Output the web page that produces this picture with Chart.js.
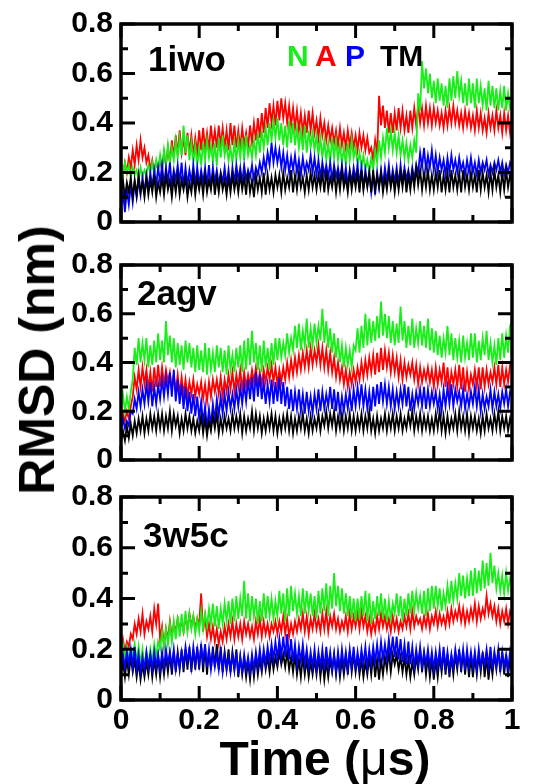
<!DOCTYPE html>
<html>
<head>
<meta charset="utf-8">
<script src="https://cdn.jsdelivr.net/npm/chart.js@4.4.1/dist/chart.umd.min.js"></script>
<style>
  html, body { margin: 0; padding: 0; background: #fff; }
  #wrap { position: relative; width: 535px; height: 784px; overflow: hidden; font-family: "Liberation Sans", Arial, sans-serif; }
  canvas { position: absolute; left: 0; }
  .title { position: absolute; font-weight: bold; color: #000; white-space: nowrap; }
  #ytitle { font-size: 50px; left: 37px; top: 360px; transform: translate(-50%, -50%) rotate(-90deg); }
  #xtitle { font-size: 48px; left: 325px; top: 758px; transform: translate(-50%, -50%); }
  #xtitle span { font-weight: normal; }
</style>
</head>
<body>
<div id="wrap">
  <canvas id="c1" width="535" height="258" style="top:-6px"></canvas>
  <canvas id="c2" width="535" height="255" style="top:235px"></canvas>
  <canvas id="c3" width="535" height="317" style="top:467px"></canvas>
  <div class="title" id="ytitle">RMSD (nm)</div>
  <div class="title" id="xtitle">Time (<span>μ</span>s)</div>
</div>
<script>
// sampling grid, 0..1 us in 0.005 steps (201 frames)
const time = Array.from({ length: 201 }, (_, i) => i / 200);
const xTickValues = [0, 0.1, 0.2, 0.3, 0.4, 0.5, 0.6, 0.7, 0.8, 0.9, 1];
const yTickValues = [0, 0.1, 0.2, 0.3, 0.4, 0.5, 0.6, 0.7, 0.8];
const panelNames = ['1iwo', '2agv', '3w5c'];
const seriesNames = ['N', 'A', 'P', 'TM'];
const seriesColors = ['#18ee18', '#ff0000', '#0000ff', '#000000'];

// ---- 1iwo ---- (one row = 0.1 us)
const p1N = [
  0.25,0.19,0.24,0.20,0.23,0.18,0.22,0.19,0.21,0.17,0.22,0.18,0.21,0.19,0.23,0.20,0.24,0.19,0.25,0.21,
  0.27,0.21,0.29,0.23,0.31,0.24,0.30,0.25,0.33,0.26,0.34,0.27,0.39,0.28,0.35,0.25,0.32,0.24,0.31,0.23,
  0.30,0.23,0.32,0.25,0.33,0.26,0.31,0.24,0.32,0.23,0.34,0.26,0.35,0.27,0.31,0.25,0.30,0.24,0.32,0.25,
  0.33,0.26,0.34,0.25,0.35,0.27,0.31,0.26,0.33,0.27,0.36,0.28,0.37,0.30,0.38,0.31,0.40,0.33,0.41,0.34,
  0.42,0.33,0.40,0.31,0.39,0.30,0.41,0.32,0.40,0.31,0.38,0.30,0.37,0.29,0.39,0.28,0.37,0.30,0.36,0.29,
  0.35,0.27,0.34,0.26,0.33,0.25,0.32,0.24,0.34,0.26,0.33,0.25,0.31,0.24,0.30,0.23,0.32,0.25,0.33,0.26,
  0.30,0.23,0.28,0.22,0.27,0.21,0.25,0.20,0.26,0.21,0.29,0.24,0.33,0.26,0.34,0.28,0.38,0.30,0.37,0.29,
  0.36,0.28,0.35,0.27,0.33,0.26,0.32,0.25,0.31,0.26,0.33,0.28,0.52,0.45,0.65,0.54,0.62,0.52,0.60,0.50,
  0.57,0.48,0.58,0.49,0.56,0.47,0.55,0.46,0.58,0.49,0.59,0.50,0.61,0.51,0.57,0.48,0.56,0.47,0.58,0.48,
  0.56,0.46,0.58,0.48,0.55,0.47,0.54,0.45,0.57,0.47,0.55,0.46,0.54,0.45,0.53,0.46,0.55,0.45,0.52,0.46,
  0.49
];
const p1A = [
  0.21,0.19,0.24,0.20,0.26,0.22,0.29,0.23,0.31,0.25,0.33,0.26,0.30,0.24,0.27,0.21,0.25,0.20,0.24,0.21,
  0.25,0.21,0.28,0.23,0.30,0.24,0.33,0.26,0.35,0.27,0.37,0.28,0.34,0.27,0.36,0.28,0.35,0.27,0.34,0.28,
  0.37,0.29,0.38,0.30,0.36,0.29,0.39,0.31,0.37,0.30,0.39,0.31,0.38,0.30,0.37,0.29,0.40,0.31,0.39,0.30,
  0.37,0.30,0.38,0.31,0.36,0.30,0.39,0.32,0.40,0.33,0.42,0.34,0.44,0.36,0.46,0.38,0.48,0.40,0.47,0.39,
  0.49,0.41,0.50,0.42,0.48,0.40,0.47,0.39,0.46,0.38,0.45,0.37,0.44,0.36,0.43,0.36,0.45,0.37,0.44,0.36,
  0.41,0.34,0.42,0.35,0.40,0.33,0.39,0.33,0.38,0.32,0.37,0.31,0.38,0.31,0.36,0.30,0.37,0.31,0.36,0.30,
  0.35,0.29,0.36,0.30,0.35,0.29,0.34,0.28,0.30,0.25,0.33,0.27,0.51,0.39,0.47,0.38,0.45,0.36,0.44,0.36,
  0.44,0.37,0.46,0.38,0.45,0.37,0.43,0.36,0.45,0.38,0.46,0.39,0.47,0.40,0.46,0.39,0.47,0.40,0.46,0.39,
  0.46,0.40,0.45,0.39,0.44,0.38,0.45,0.39,0.46,0.40,0.47,0.40,0.45,0.39,0.44,0.38,0.45,0.39,0.44,0.38,
  0.43,0.37,0.45,0.38,0.44,0.37,0.42,0.36,0.44,0.38,0.43,0.37,0.45,0.38,0.43,0.36,0.44,0.37,0.43,0.36,
  0.42
];
const p1P = [
  0.05,0.12,0.04,0.13,0.07,0.15,0.08,0.16,0.10,0.17,0.11,0.18,0.12,0.19,0.13,0.20,0.14,0.21,0.15,0.22,
  0.16,0.23,0.15,0.22,0.16,0.24,0.15,0.21,0.17,0.23,0.16,0.24,0.14,0.22,0.15,0.21,0.16,0.23,0.15,0.22,
  0.15,0.21,0.16,0.22,0.15,0.23,0.14,0.22,0.16,0.21,0.15,0.20,0.16,0.22,0.15,0.21,0.14,0.22,0.16,0.23,
  0.17,0.22,0.16,0.23,0.17,0.21,0.18,0.23,0.17,0.22,0.19,0.24,0.20,0.26,0.21,0.28,0.23,0.32,0.24,0.30,
  0.24,0.29,0.22,0.28,0.21,0.27,0.20,0.26,0.21,0.27,0.20,0.25,0.19,0.26,0.20,0.24,0.21,0.27,0.20,0.26,
  0.19,0.25,0.18,0.24,0.19,0.23,0.18,0.24,0.17,0.23,0.18,0.22,0.17,0.23,0.16,0.22,0.15,0.21,0.16,0.22,
  0.17,0.23,0.15,0.22,0.14,0.21,0.15,0.20,0.12,0.19,0.11,0.20,0.14,0.21,0.15,0.22,0.16,0.23,0.15,0.21,
  0.16,0.22,0.15,0.23,0.16,0.22,0.17,0.21,0.16,0.22,0.17,0.23,0.20,0.28,0.22,0.30,0.21,0.27,0.22,0.29,
  0.21,0.27,0.20,0.26,0.21,0.25,0.19,0.26,0.20,0.27,0.21,0.25,0.20,0.26,0.21,0.24,0.19,0.25,0.20,0.26,
  0.20,0.24,0.19,0.25,0.20,0.24,0.21,0.25,0.19,0.23,0.20,0.24,0.21,0.25,0.20,0.24,0.19,0.23,0.20,0.24,
  0.22
];
const p1TM = [
  0.11,0.17,0.10,0.16,0.12,0.18,0.10,0.17,0.11,0.19,0.12,0.16,0.10,0.18,0.11,0.17,0.12,0.19,0.10,0.16,
  0.12,0.18,0.11,0.19,0.13,0.17,0.10,0.18,0.12,0.19,0.11,0.17,0.13,0.18,0.10,0.16,0.12,0.19,0.11,0.18,
  0.13,0.18,0.11,0.19,0.12,0.17,0.13,0.20,0.11,0.18,0.12,0.19,0.13,0.17,0.11,0.18,0.12,0.19,0.13,0.18,
  0.12,0.19,0.13,0.18,0.11,0.20,0.12,0.17,0.10,0.19,0.13,0.18,0.12,0.20,0.11,0.19,0.13,0.18,0.12,0.19,
  0.14,0.19,0.12,0.20,0.13,0.18,0.14,0.21,0.12,0.19,0.13,0.20,0.14,0.18,0.12,0.19,0.13,0.20,0.14,0.19,
  0.13,0.19,0.14,0.20,0.12,0.21,0.13,0.18,0.14,0.20,0.12,0.19,0.13,0.21,0.14,0.18,0.12,0.20,0.13,0.19,
  0.14,0.20,0.12,0.21,0.13,0.19,0.14,0.20,0.12,0.21,0.13,0.19,0.14,0.20,0.12,0.18,0.13,0.20,0.14,0.19,
  0.12,0.19,0.13,0.20,0.14,0.21,0.12,0.19,0.13,0.20,0.14,0.22,0.15,0.21,0.13,0.20,0.14,0.21,0.13,0.19,
  0.13,0.20,0.14,0.21,0.12,0.19,0.13,0.20,0.12,0.21,0.14,0.19,0.13,0.20,0.12,0.21,0.14,0.19,0.13,0.20,
  0.14,0.19,0.12,0.21,0.13,0.20,0.14,0.19,0.12,0.20,0.13,0.21,0.14,0.19,0.12,0.20,0.13,0.21,0.14,0.19,
  0.16
];

// ---- 2agv ----
const p2N = [
  0.22,0.27,0.20,0.26,0.21,0.28,0.33,0.46,0.39,0.50,0.40,0.48,0.41,0.50,0.38,0.47,0.39,0.49,0.40,0.52,
  0.41,0.49,0.40,0.57,0.43,0.51,0.40,0.50,0.38,0.48,0.39,0.47,0.37,0.49,0.40,0.48,0.38,0.46,0.36,0.47,
  0.37,0.45,0.36,0.48,0.35,0.46,0.37,0.44,0.36,0.47,0.38,0.46,0.36,0.45,0.35,0.47,0.37,0.43,0.36,0.46,
  0.38,0.47,0.36,0.49,0.37,0.50,0.39,0.53,0.40,0.48,0.37,0.47,0.36,0.49,0.38,0.46,0.37,0.48,0.39,0.50,
  0.41,0.50,0.42,0.48,0.43,0.52,0.44,0.50,0.45,0.55,0.46,0.56,0.45,0.53,0.47,0.58,0.46,0.54,0.47,0.56,
  0.48,0.55,0.49,0.62,0.48,0.57,0.46,0.54,0.44,0.52,0.42,0.50,0.40,0.47,0.38,0.46,0.39,0.45,0.38,0.47,
  0.45,0.54,0.44,0.55,0.46,0.60,0.47,0.58,0.48,0.57,0.49,0.59,0.50,0.65,0.51,0.60,0.50,0.59,0.48,0.57,
  0.47,0.56,0.48,0.63,0.49,0.57,0.46,0.55,0.47,0.58,0.46,0.54,0.48,0.57,0.47,0.55,0.46,0.58,0.45,0.54,
  0.44,0.53,0.43,0.51,0.42,0.50,0.44,0.55,0.43,0.52,0.41,0.50,0.42,0.49,0.40,0.51,0.42,0.48,0.41,0.52,
  0.42,0.52,0.40,0.49,0.41,0.50,0.43,0.53,0.41,0.48,0.40,0.47,0.39,0.50,0.41,0.52,0.42,0.51,0.44,0.55,
  0.57
];
const p2A = [
  0.15,0.19,0.16,0.20,0.17,0.22,0.26,0.34,0.29,0.37,0.30,0.38,0.31,0.37,0.29,0.36,0.28,0.38,0.30,0.39,
  0.30,0.38,0.31,0.37,0.32,0.36,0.29,0.35,0.28,0.35,0.27,0.34,0.27,0.33,0.26,0.32,0.27,0.33,0.26,0.31,
  0.27,0.32,0.25,0.31,0.24,0.32,0.26,0.33,0.28,0.33,0.27,0.34,0.26,0.33,0.28,0.35,0.29,0.36,0.28,0.35,
  0.30,0.37,0.29,0.36,0.30,0.35,0.31,0.37,0.32,0.38,0.30,0.36,0.31,0.37,0.32,0.38,0.33,0.39,0.32,0.38,
  0.31,0.37,0.32,0.38,0.33,0.40,0.34,0.41,0.35,0.42,0.36,0.43,0.37,0.44,0.38,0.45,0.38,0.46,0.39,0.45,
  0.40,0.47,0.39,0.46,0.38,0.45,0.37,0.44,0.36,0.42,0.34,0.40,0.33,0.38,0.31,0.37,0.30,0.36,0.31,0.37,
  0.32,0.38,0.33,0.40,0.34,0.41,0.35,0.42,0.36,0.43,0.35,0.44,0.36,0.46,0.37,0.45,0.38,0.44,0.36,0.43,
  0.36,0.42,0.34,0.41,0.33,0.40,0.34,0.39,0.35,0.40,0.33,0.39,0.31,0.38,0.32,0.37,0.33,0.38,0.32,0.37,
  0.30,0.38,0.31,0.37,0.32,0.40,0.30,0.38,0.29,0.36,0.31,0.37,0.30,0.39,0.29,0.38,0.28,0.36,0.29,0.35,
  0.31,0.37,0.30,0.38,0.29,0.38,0.30,0.37,0.31,0.36,0.32,0.38,0.31,0.39,0.30,0.38,0.31,0.37,0.32,0.39,
  0.40
];
const p2P = [
  0.12,0.17,0.13,0.16,0.14,0.20,0.19,0.25,0.21,0.28,0.22,0.29,0.23,0.31,0.24,0.32,0.22,0.30,0.23,0.31,
  0.25,0.33,0.26,0.34,0.27,0.36,0.26,0.37,0.24,0.33,0.23,0.31,0.21,0.30,0.20,0.28,0.19,0.27,0.18,0.26,
  0.17,0.24,0.15,0.22,0.13,0.21,0.14,0.23,0.16,0.25,0.18,0.26,0.19,0.27,0.20,0.28,0.21,0.27,0.21,0.29,
  0.22,0.30,0.23,0.31,0.24,0.33,0.25,0.34,0.24,0.36,0.26,0.35,0.25,0.32,0.23,0.31,0.24,0.33,0.23,0.32,
  0.24,0.34,0.23,0.32,0.22,0.30,0.21,0.29,0.20,0.28,0.21,0.29,0.20,0.27,0.19,0.28,0.20,0.26,0.19,0.27,
  0.21,0.29,0.20,0.28,0.21,0.27,0.22,0.30,0.21,0.29,0.20,0.28,0.19,0.26,0.20,0.27,0.21,0.28,0.20,0.29,
  0.22,0.30,0.23,0.31,0.22,0.29,0.21,0.28,0.20,0.30,0.22,0.31,0.23,0.32,0.24,0.31,0.23,0.30,0.22,0.29,
  0.21,0.28,0.22,0.29,0.23,0.31,0.22,0.30,0.20,0.27,0.21,0.28,0.23,0.29,0.22,0.30,0.21,0.29,0.22,0.28,
  0.23,0.28,0.21,0.27,0.20,0.29,0.22,0.30,0.23,0.31,0.22,0.29,0.24,0.28,0.22,0.29,0.21,0.27,0.22,0.28,
  0.23,0.30,0.22,0.29,0.20,0.27,0.21,0.26,0.22,0.29,0.21,0.28,0.22,0.27,0.21,0.28,0.23,0.29,0.22,0.28,
  0.26
];
const p2TM = [
  0.07,0.12,0.08,0.14,0.09,0.15,0.10,0.16,0.11,0.17,0.12,0.18,0.11,0.17,0.12,0.19,0.13,0.18,0.12,0.19,
  0.13,0.19,0.12,0.18,0.13,0.20,0.12,0.19,0.14,0.18,0.11,0.17,0.12,0.19,0.13,0.18,0.12,0.17,0.11,0.16,
  0.12,0.18,0.11,0.17,0.10,0.16,0.12,0.18,0.13,0.19,0.11,0.17,0.12,0.18,0.13,0.17,0.12,0.19,0.13,0.18,
  0.13,0.19,0.11,0.18,0.12,0.17,0.13,0.20,0.12,0.19,0.13,0.18,0.11,0.17,0.12,0.18,0.13,0.19,0.12,0.18,
  0.11,0.17,0.12,0.18,0.13,0.19,0.12,0.18,0.11,0.17,0.12,0.18,0.13,0.19,0.12,0.17,0.11,0.18,0.12,0.17,
  0.13,0.19,0.12,0.18,0.14,0.20,0.13,0.19,0.14,0.20,0.12,0.18,0.13,0.19,0.12,0.18,0.13,0.19,0.12,0.18,
  0.12,0.18,0.13,0.19,0.12,0.18,0.13,0.20,0.12,0.17,0.11,0.18,0.12,0.17,0.13,0.19,0.12,0.18,0.13,0.19,
  0.12,0.18,0.13,0.19,0.12,0.17,0.13,0.19,0.14,0.20,0.12,0.18,0.13,0.19,0.12,0.18,0.13,0.18,0.12,0.17,
  0.12,0.19,0.13,0.20,0.12,0.18,0.11,0.18,0.12,0.17,0.13,0.19,0.12,0.20,0.13,0.18,0.12,0.19,0.11,0.18,
  0.13,0.18,0.12,0.17,0.11,0.18,0.12,0.19,0.13,0.17,0.12,0.19,0.13,0.20,0.12,0.18,0.13,0.18,0.12,0.17,
  0.14
];

// ---- 3w5c ----
const p3N = [
  0.18,0.22,0.17,0.21,0.16,0.20,0.17,0.22,0.15,0.21,0.14,0.20,0.13,0.19,0.14,0.20,0.15,0.22,0.17,0.23,
  0.20,0.27,0.21,0.28,0.22,0.30,0.23,0.31,0.24,0.33,0.25,0.34,0.26,0.35,0.27,0.34,0.28,0.33,0.26,0.32,
  0.27,0.35,0.28,0.34,0.29,0.36,0.30,0.38,0.29,0.37,0.28,0.36,0.30,0.38,0.31,0.39,0.30,0.40,0.31,0.41,
  0.32,0.40,0.33,0.47,0.32,0.42,0.31,0.41,0.33,0.40,0.30,0.39,0.31,0.42,0.32,0.41,0.33,0.40,0.32,0.39,
  0.33,0.43,0.34,0.42,0.31,0.44,0.33,0.45,0.35,0.42,0.34,0.41,0.33,0.44,0.34,0.43,0.35,0.42,0.33,0.41,
  0.32,0.43,0.34,0.44,0.35,0.46,0.33,0.45,0.36,0.50,0.37,0.45,0.35,0.44,0.34,0.42,0.33,0.41,0.32,0.40,
  0.31,0.40,0.32,0.41,0.33,0.43,0.31,0.42,0.30,0.39,0.32,0.41,0.33,0.42,0.32,0.40,0.31,0.39,0.32,0.38,
  0.34,0.42,0.33,0.41,0.31,0.40,0.33,0.42,0.34,0.43,0.35,0.42,0.36,0.41,0.34,0.43,0.33,0.44,0.35,0.45,
  0.36,0.45,0.37,0.44,0.35,0.42,0.37,0.45,0.38,0.47,0.39,0.46,0.40,0.50,0.41,0.49,0.40,0.48,0.41,0.51,
  0.41,0.52,0.42,0.51,0.43,0.55,0.44,0.54,0.45,0.58,0.46,0.53,0.44,0.50,0.43,0.49,0.42,0.50,0.43,0.48,
  0.45
];
const p3A = [
  0.20,0.24,0.19,0.23,0.21,0.26,0.24,0.30,0.26,0.32,0.27,0.34,0.26,0.31,0.28,0.33,0.27,0.36,0.30,0.38,
  0.24,0.29,0.21,0.28,0.24,0.31,0.25,0.30,0.27,0.32,0.28,0.31,0.27,0.33,0.28,0.34,0.29,0.33,0.28,0.32,
  0.30,0.42,0.27,0.33,0.25,0.30,0.24,0.29,0.23,0.28,0.22,0.27,0.23,0.29,0.24,0.30,0.25,0.31,0.24,0.30,
  0.25,0.30,0.24,0.31,0.26,0.30,0.25,0.29,0.24,0.31,0.26,0.32,0.25,0.31,0.26,0.30,0.25,0.30,0.27,0.31,
  0.26,0.31,0.27,0.33,0.26,0.32,0.25,0.30,0.26,0.31,0.27,0.32,0.28,0.34,0.27,0.33,0.26,0.32,0.28,0.34,
  0.28,0.32,0.27,0.34,0.28,0.35,0.27,0.33,0.29,0.34,0.28,0.32,0.27,0.31,0.28,0.33,0.27,0.34,0.28,0.33,
  0.29,0.34,0.28,0.35,0.29,0.33,0.27,0.32,0.26,0.31,0.27,0.33,0.28,0.34,0.29,0.33,0.28,0.32,0.27,0.33,
  0.28,0.32,0.27,0.31,0.28,0.33,0.29,0.34,0.28,0.35,0.29,0.33,0.30,0.32,0.28,0.33,0.29,0.34,0.28,0.33,
  0.30,0.35,0.29,0.34,0.30,0.33,0.29,0.35,0.30,0.36,0.31,0.35,0.32,0.37,0.31,0.36,0.30,0.35,0.31,0.36,
  0.32,0.38,0.31,0.37,0.32,0.36,0.33,0.41,0.34,0.38,0.33,0.37,0.31,0.36,0.30,0.35,0.31,0.36,0.30,0.35,
  0.33
];
const p3P = [
  0.12,0.18,0.13,0.19,0.14,0.20,0.13,0.21,0.12,0.18,0.11,0.17,0.12,0.19,0.13,0.18,0.12,0.19,0.13,0.18,
  0.12,0.19,0.13,0.20,0.14,0.19,0.13,0.20,0.12,0.18,0.13,0.19,0.14,0.21,0.15,0.20,0.13,0.21,0.14,0.20,
  0.14,0.21,0.15,0.22,0.13,0.20,0.12,0.19,0.13,0.18,0.12,0.19,0.11,0.18,0.12,0.17,0.11,0.18,0.12,0.19,
  0.10,0.17,0.11,0.18,0.12,0.17,0.11,0.18,0.12,0.19,0.13,0.20,0.13,0.20,0.14,0.21,0.15,0.22,0.16,0.23,
  0.16,0.24,0.17,0.25,0.17,0.26,0.16,0.24,0.15,0.22,0.14,0.21,0.15,0.22,0.14,0.20,0.13,0.19,0.13,0.20,
  0.12,0.19,0.13,0.20,0.12,0.21,0.13,0.19,0.12,0.18,0.11,0.19,0.12,0.20,0.13,0.19,0.12,0.20,0.13,0.21,
  0.12,0.19,0.13,0.20,0.14,0.21,0.13,0.20,0.14,0.21,0.15,0.22,0.15,0.23,0.16,0.22,0.16,0.24,0.17,0.25,
  0.17,0.25,0.16,0.24,0.15,0.22,0.14,0.23,0.14,0.21,0.13,0.20,0.14,0.21,0.13,0.19,0.14,0.20,0.13,0.19,
  0.12,0.19,0.13,0.20,0.12,0.21,0.13,0.19,0.12,0.18,0.13,0.20,0.14,0.19,0.13,0.20,0.12,0.20,0.13,0.19,
  0.13,0.19,0.12,0.20,0.13,0.18,0.14,0.20,0.13,0.21,0.12,0.19,0.13,0.20,0.12,0.19,0.13,0.18,0.12,0.19,
  0.14
];
const p3TM = [
  0.10,0.15,0.09,0.16,0.10,0.17,0.11,0.16,0.09,0.15,0.08,0.14,0.09,0.15,0.10,0.17,0.09,0.16,0.10,0.17,
  0.09,0.16,0.10,0.17,0.11,0.18,0.10,0.19,0.11,0.19,0.12,0.20,0.11,0.20,0.12,0.21,0.11,0.20,0.12,0.21,
  0.12,0.22,0.11,0.21,0.10,0.20,0.12,0.21,0.13,0.22,0.12,0.21,0.11,0.19,0.12,0.20,0.11,0.19,0.12,0.20,
  0.09,0.17,0.10,0.16,0.09,0.15,0.08,0.16,0.09,0.17,0.10,0.16,0.11,0.18,0.12,0.17,0.11,0.18,0.12,0.17,
  0.13,0.19,0.14,0.18,0.13,0.19,0.12,0.17,0.11,0.18,0.10,0.16,0.09,0.17,0.10,0.16,0.09,0.15,0.10,0.16,
  0.10,0.17,0.09,0.16,0.08,0.15,0.09,0.16,0.11,0.18,0.10,0.17,0.09,0.16,0.10,0.17,0.10,0.19,0.11,0.18,
  0.11,0.17,0.10,0.16,0.09,0.15,0.10,0.17,0.10,0.18,0.09,0.16,0.08,0.16,0.10,0.17,0.12,0.19,0.11,0.18,
  0.14,0.18,0.12,0.17,0.11,0.17,0.10,0.16,0.09,0.15,0.10,0.17,0.12,0.20,0.11,0.18,0.10,0.17,0.09,0.16,
  0.08,0.16,0.09,0.17,0.11,0.19,0.10,0.18,0.09,0.17,0.10,0.18,0.12,0.20,0.11,0.19,0.10,0.18,0.09,0.17,
  0.09,0.17,0.10,0.18,0.11,0.19,0.09,0.17,0.08,0.16,0.10,0.18,0.12,0.20,0.11,0.19,0.10,0.18,0.09,0.17,
  0.09
];

const FONT = '"Liberation Sans", Arial, sans-serif';

function fmtTick(v) {
  if (v === 0) return '0';
  if (Math.abs(v - 1) < 1e-9) return '1';
  return v.toFixed(1);
}

// frame, inward ticks on all four sides, panel name and the N A P TM key
const frameTicks = {
  id: 'frameTicks',
  afterDraw(chart, args, opts) {
    const { ctx, chartArea: a } = chart;
    const x = chart.scales.x, y = chart.scales.y;
    ctx.save();
    ctx.strokeStyle = '#000';
    ctx.lineWidth = 3;
    ctx.beginPath();
    xTickValues.forEach((v, i) => {
      const px = x.getPixelForValue(v);
      const len = i % 2 === 0 ? 14 : 7;
      ctx.moveTo(px, a.bottom); ctx.lineTo(px, a.bottom - len);
      ctx.moveTo(px, a.top); ctx.lineTo(px, a.top + len);
    });
    yTickValues.forEach((v, i) => {
      const py = y.getPixelForValue(v);
      const len = i % 2 === 0 ? 14 : 7;
      ctx.moveTo(a.left, py); ctx.lineTo(a.left + len, py);
      ctx.moveTo(a.right, py); ctx.lineTo(a.right - len, py);
    });
    ctx.stroke();
    ctx.lineWidth = 3.5;
    ctx.strokeRect(a.left, a.top, a.right - a.left, a.bottom - a.top);

    ctx.fillStyle = '#000';
    ctx.textBaseline = 'alphabetic';
    ctx.font = 'bold 35px ' + FONT;
    ctx.fillText(opts.name, a.left + opts.dx, a.top + opts.dy);

    if (opts.key) {
      ctx.font = 'bold 30px ' + FONT;
      const offs = [166, 194, 224, 259];
      seriesNames.forEach((s, i) => {
        ctx.fillStyle = seriesColors[i];
        ctx.fillText(s, a.left + offs[i], a.top + 42);
      });
    }
    ctx.restore();
  }
};

function makePanel(canvasId, idx, series, drawOrder, pad, showX, textPos, key) {
  // drawOrder: lower number ends up on top
  const datasets = series.map((d, i) => ({
    label: seriesNames[i],
    data: d,
    borderColor: seriesColors[i],
    borderWidth: 1.8,
    pointRadius: 0,
    tension: 0,
    order: drawOrder[i]
  }));
  const xScale = {
    type: 'linear',
    min: 0, max: 1,
    display: showX,
    grid: { display: false, drawTicks: false },
    border: { display: false },
    ticks: {
      stepSize: 0.2,
      padding: 3,
      color: '#000',
      font: { family: FONT, size: 30, weight: 'bold' },
      callback: v => fmtTick(v)
    }
  };
  if (showX) xScale.afterFit = scale => { scale.height = 40; };

  return new Chart(document.getElementById(canvasId), {
    type: 'line',
    data: { labels: time, datasets: datasets },
    options: {
      responsive: false,
      animation: false,
      events: [],
      layout: { padding: pad },
      plugins: {
        legend: { display: false },
        tooltip: { enabled: false },
        frameTicks: { name: panelNames[idx], dx: textPos[0], dy: textPos[1], key: key }
      },
      scales: {
        x: xScale,
        y: {
          min: 0, max: 0.8,
          grid: { display: false, drawTicks: false },
          border: { display: false },
          afterFit(scale) { scale.width = 121; },
          ticks: {
            stepSize: 0.2,
            padding: 8,
            color: '#000',
            font: { family: FONT, size: 30, weight: 'bold' },
            callback: v => fmtTick(v)
          }
        }
      }
    },
    plugins: [frameTicks]
  });
}

// canvases overlap a little; padding kept above the label half-heights so the plot boxes land where the reference has them
makePanel('c1', 0, [p1N, p1A, p1P, p1TM], [2, 3, 1, 0],
  { left: 0, right: 23, top: 30, bottom: 30 }, false, [27, 47], true);
makePanel('c2', 1, [p2N, p2A, p2P, p2TM], [2, 3, 1, 0],
  { left: 0, right: 23, top: 30, bottom: 30 }, false, [16, 40], false);
makePanel('c3', 2, [p3N, p3A, p3P, p3TM], [2, 3, 0, 1],
  { left: 0, right: 23, top: 30, bottom: 44 }, true, [22, 50], false);
</script>
</body>
</html>
